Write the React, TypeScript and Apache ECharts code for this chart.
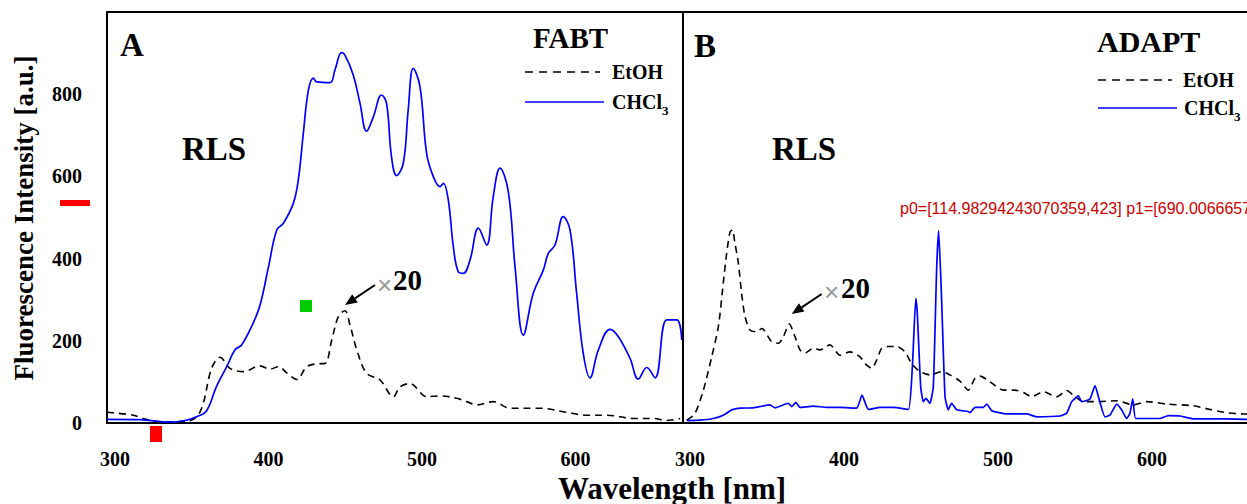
import React, { useEffect, useRef } from 'react';
import * as echarts from 'echarts';

// ---- tick values ----
const xMajorTicks = [300, 400, 500, 600];
const xMinorTicks = [350, 450, 550, 650];
const yMajorTicks = [0, 200, 400, 600, 800];
const yMinorTicks = [100, 300, 500, 700, 900];

// ---- axis ranges ----
const xRangeA = [294.8, 670];
const xRangeB = [295.45, 663];
const yRange = [0, 1000];

// ---- Panel A: FABT ----
const fabtEtOH = [
  [294.8, 26], [312, 19], [318.4, 11], [329.3, 3], [346.7, 4], [353.2, 15], [357.5, 48], [361.9, 121],
  [365.1, 149], [368.4, 160], [374.9, 133], [383.6, 125], [394.5, 139], [401, 131], [406.4, 137],
  [411.9, 122], [418.4, 106], [424.9, 137], [431.4, 144], [436.8, 145], [441.2, 202], [445.5, 259],
  [449.8, 273], [453.1, 238], [457.5, 178], [463.9, 121], [472.6, 105], [481.3, 64], [485.7, 88],
  [492.2, 96], [503, 64], [511.7, 66], [522.6, 60], [529.1, 52], [535.6, 44], [546.4, 52], [557.3, 36],
  [576.9, 36], [594.3, 26], [607.3, 19], [620.3, 19], [637.7, 11], [650.7, 11], [659.4, 6], [668.1, 11],
];

const fabtCHCl3 = [
  [294.8, 9], [316, 8], [336, 2], [346.7, 7], [353, 15], [359.7, 30], [366, 88], [372.8, 137],
  [378.2, 178], [382.5, 190], [390, 243], [394.5, 287], [400, 380], [405.4, 470], [409.7, 486],
  [416.2, 535], [419.4, 591], [422.7, 705], [426, 810], [429.3, 839], [431.4, 830], [440, 828],
  [443.3, 859], [447.6, 901], [449.8, 895], [455.2, 847], [459.6, 778], [463.9, 710], [468.3, 745],
  [473.6, 798], [476.9, 778], [480.1, 648], [483.4, 602], [487.8, 632], [491, 762], [494.3, 863],
  [498.7, 818], [503, 656], [507.4, 599], [511.7, 575], [513.9, 583], [517.1, 543], [520.4, 429],
  [523.6, 368], [526.9, 364], [531.3, 397], [536.7, 474], [542.1, 433], [546.4, 551], [550.8, 620],
  [556.2, 563], [560.6, 380], [566, 214], [572.5, 316], [579, 372], [582.3, 413], [586.6, 433],
  [592, 502], [596.4, 470], [600.7, 316], [605, 170], [609.4, 110], [614.9, 178], [622.5, 228],
  [627.9, 210], [635.5, 157], [640.9, 107], [646.4, 135], [651.8, 110], [659.4, 251], [665.9, 251],
  [669.2, 202],
];

// ---- Panel B: ADAPT ----
const adaptEtOH = [
  [297.9, 7], [303.2, 23], [308.7, 80], [314.1, 161], [318.4, 234], [321.6, 340], [323.8, 413],
  [326, 465], [327.5, 470], [329.2, 437], [331.4, 389], [333.5, 316], [335.7, 259], [339, 226],
  [343.3, 222], [346.6, 230], [353, 198], [357.4, 194], [360.6, 210], [364.5, 241], [368.2, 210],
  [371.4, 178], [374.7, 170], [380.1, 182], [384.4, 178], [390.9, 190], [397.4, 165], [403.9, 173],
  [410.4, 161], [413.6, 145], [418, 133], [421.2, 153], [424.5, 182], [428.8, 186], [434.2, 186],
  [439.6, 173], [443.9, 145], [449.4, 125], [455.8, 117], [463.4, 125], [468.8, 117], [475.3, 102],
  [480.7, 80], [485.1, 109], [488.3, 114], [494.8, 100], [503.5, 80], [511, 80], [516.5, 74],
  [521.9, 64], [529.4, 76], [538.1, 64], [544.6, 79], [550, 64], [555.4, 52], [564.1, 52], [577.1, 54],
  [587.9, 44], [596.6, 52], [609.5, 46], [626.8, 42], [637.7, 33], [648.5, 25], [659.3, 22], [663, 22],
];

const adaptCHCl3 = [
  [297.9, 6], [306.5, 7], [315.1, 11], [321.6, 19], [327.1, 32], [332.5, 36], [341.1, 37], [351.9, 44],
  [355.2, 37], [363.8, 48], [366, 40], [368.8, 50], [371.4, 38], [380.1, 41], [388.8, 38], [397.4, 38],
  [408.2, 36], [411.7, 68], [415.8, 33], [423.4, 38], [432, 38], [441.8, 33], [444.4, 137], [446.6, 303],
  [447.6, 267], [449.8, 88], [451.5, 52], [453.2, 60], [455.8, 48], [458, 88], [460.2, 380], [461.5, 468],
  [463.4, 299], [465.6, 64], [467.7, 32], [469.9, 48], [473.2, 32], [480.7, 28], [481.8, 25], [485.1, 38],
  [490.5, 38], [492.7, 46], [495.9, 30], [505.6, 22], [518.6, 22], [525.1, 15], [540.3, 17], [544.6, 24],
  [547.9, 52], [552.2, 66], [554.4, 52], [559.7, 58], [563, 91], [565.8, 56], [569.5, 15], [572.7, 19],
  [577.1, 46], [580.3, 32], [583.6, 11], [585.7, 24], [587.5, 59], [589.4, 11], [596.6, 11], [605.2, 11],
  [610.6, 18], [618.2, 17], [626.8, 10], [637.7, 10], [646.4, 10], [661.5, 9], [663, 9],
];

const FONT = "'Liberation Serif', 'Times New Roman', serif";
const BLUE = '#0000ff';
const GRID_A = { left: 107, top: 12, width: 576, height: 411 };
const GRID_B = { left: 683, top: 12, width: 566, height: 411 };

function arrow(x1: number, y1: number, x2: number, y2: number) {
  const dx = x2 - x1, dy = y2 - y1;
  const len = Math.sqrt(dx * dx + dy * dy);
  const ux = dx / len, uy = dy / len;
  const hl = 12, hw = 5;
  const bx = x2 - ux * hl, by = y2 - uy * hl;
  const nx = -uy, ny = ux;
  return [
    { type: 'line', shape: { x1, y1, x2: bx, y2: by }, style: { stroke: '#000', lineWidth: 2 } },
    {
      type: 'polygon',
      shape: { points: [[x2, y2], [bx + nx * hw, by + ny * hw], [bx - nx * hw, by - ny * hw]] },
      style: { fill: '#000' },
    },
  ];
}

function text(x: number, y: number, t: string, size: number, extra: any = {}) {
  return {
    type: 'text', x, y, ...extra,
    style: { text: t, fill: '#000', font: `bold ${size}px ${FONT}`, align: 'left', verticalAlign: 'middle', ...(extra.style || {}) },
  };
}

function chcl3(x: number, y: number) {
  return {
    type: 'text', x, y,
    style: {
      text: '{n|CHCl}{s|3}',
      align: 'left', verticalAlign: 'middle',
      rich: {
        n: { fontSize: 20, fontWeight: 'bold', fontFamily: FONT, lineHeight: 29, verticalAlign: 'middle', fill: '#000' },
        s: { fontSize: 13, fontWeight: 'bold', fontFamily: FONT, lineHeight: 13, verticalAlign: 'bottom', fill: '#000' },
      },
    },
  };
}

export default function App() {
  const ref = useRef<HTMLDivElement>(null);
  useEffect(() => {
    const chart = echarts.init(ref.current!, null, { renderer: 'svg' });

    const axisBlack = { color: '#000', width: 2 };
    const xAxisFor = (gridIndex: number, range: number[]) => ({
      type: 'value', gridIndex, min: range[0], max: range[1],
      axisLine: { show: true, onZero: false, lineStyle: axisBlack },
      axisTick: { show: false },
      axisLabel: { show: true, customValues: xMajorTicks, margin: 26, color: '#000', fontFamily: FONT, fontWeight: 'bold', fontSize: 20 },
      splitLine: { show: false },
    });

    const lineSeries = (name: string, data: number[][], g: number, dashed: boolean, smooth: number) => ({
      type: 'line', name, data, xAxisIndex: g, yAxisIndex: g,
      showSymbol: false, symbol: 'none', smooth,
      lineStyle: dashed
        ? { color: '#000', width: 1.6, type: [7, 5] }
        : { color: BLUE, width: 1.7 },
    });

    chart.setOption({
      animation: false,
      grid: [
        { ...GRID_A, show: true, borderColor: '#000', borderWidth: 2, outerBoundsMode: 'none' },
        { ...GRID_B, show: true, borderColor: '#000', borderWidth: 2, outerBoundsMode: 'none' },
      ],
      xAxis: [xAxisFor(0, xRangeA), xAxisFor(1, xRangeB)],
      yAxis: [
        {
          type: 'value', gridIndex: 0, min: yRange[0], max: yRange[1],
          axisLine: { show: true, lineStyle: axisBlack },
          axisTick: { show: false },
          axisLabel: { show: true, customValues: yMajorTicks, margin: 25, color: '#000', fontFamily: FONT, fontWeight: 'bold', fontSize: 20 },
          splitLine: { show: false },
        },
        {
          type: 'value', gridIndex: 1, min: yRange[0], max: yRange[1],
          axisLine: { show: false }, axisTick: { show: false }, axisLabel: { show: false },
          splitLine: { show: false },
        },
      ],
      series: [
        lineSeries('EtOH', fabtEtOH, 0, true, 0.35),
        lineSeries('CHCl3', fabtCHCl3, 0, false, 0.4),
        lineSeries('EtOH', adaptEtOH, 1, true, 0.25),
        lineSeries('CHCl3', adaptCHCl3, 1, false, 0.15),
      ],
    });

    const p0 = chart.convertToPixel({ gridIndex: 0 }, [300, 0]);
    const p1 = chart.convertToPixel({ gridIndex: 1 }, [300, 0]);

    chart.setOption({
      graphic: [
        text(24, 218, 'Fluorescence Intensity [a.u.]', 27, { rotation: Math.PI / 2, style: { align: 'center' } }),
        text(672, 488, 'Wavelength [nm]', 31, { style: { align: 'center' } }),
        text(120, 45, 'A', 33),
        text(182, 149, 'RLS', 33),
        text(533, 38, 'FABT', 29),
        { type: 'line', shape: { x1: 525, y1: 72, x2: 600, y2: 72 }, style: { stroke: '#000', lineWidth: 1.6, lineDash: [8, 6] } },
        text(612, 72, 'EtOH', 20),
        { type: 'line', shape: { x1: 525, y1: 102, x2: 604, y2: 102 }, style: { stroke: BLUE, lineWidth: 1.7 } },
        chcl3(612, 102),
        { type: 'text', x: 377, y: 285, style: { text: '×', fill: '#999', font: `26px 'Liberation Sans', sans-serif`, align: 'left', verticalAlign: 'middle' } },
        text(393, 280, '20', 29),
        ...arrow(375, 285, 345, 305),
        text(694, 46, 'B', 33),
        text(772, 149, 'RLS', 33),
        text(1097, 41, 'ADAPT', 30),
        { type: 'line', shape: { x1: 1098, y1: 80, x2: 1172, y2: 80 }, style: { stroke: '#000', lineWidth: 1.6, lineDash: [8, 6] } },
        text(1183, 80, 'EtOH', 20),
        { type: 'line', shape: { x1: 1098, y1: 108, x2: 1177, y2: 108 }, style: { stroke: BLUE, lineWidth: 1.7 } },
        chcl3(1184, 108),
        { type: 'text', x: 824, y: 292, style: { text: '×', fill: '#999', font: `26px 'Liberation Sans', sans-serif`, align: 'left', verticalAlign: 'middle' } },
        text(841, 288, '20', 29),
        ...arrow(821.7, 294, 791.7, 314),
        // diagnostics
        { type: 'rect', shape: { x: 150, y: 426, width: 12, height: 16 }, style: { fill: '#f00' } },
        { type: 'rect', shape: { x: 60, y: 200, width: 30, height: 6 }, style: { fill: '#f00' } },
        { type: 'rect', shape: { x: 300, y: 300, width: 12, height: 12 }, style: { fill: '#0c0' } },
        { type: 'text', x: 900, y: 200, style: { text: 'p0=' + JSON.stringify(p0) + ' p1=' + JSON.stringify(p1), font: '16px sans-serif', fill: '#c00' } },
      ],
    });

    return () => chart.dispose();
  }, []);
  return <div ref={ref} style={{ position: 'absolute', left: 0, top: 0, width: 1247, height: 504 }} />;
}
